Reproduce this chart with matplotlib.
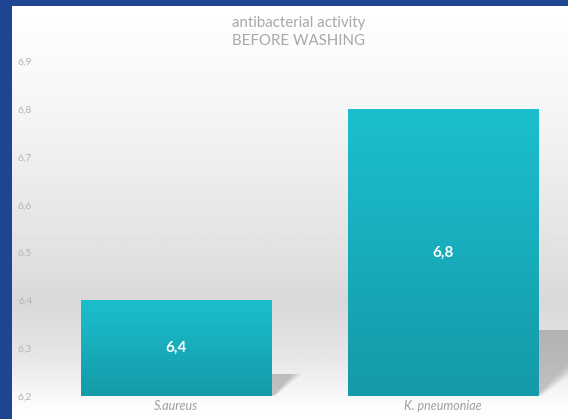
import numpy as np
import matplotlib.pyplot as plt
from matplotlib.patches import Polygon, Rectangle

categories = ["S.aureus", "K. pneumoniae"]
values = [6.4, 6.8]
value_labels = ["6,4", "6,8"]
yticks = [6.2, 6.3, 6.4, 6.5, 6.6, 6.7, 6.8, 6.9]
ytick_labels = ["6,2", "6,3", "6,4", "6,5", "6,6", "6,7", "6,8", "6,9"]
base = 6.2

W, H = 568, 419
fig = plt.figure(figsize=(W / 100, H / 100), dpi=100)
plt.rcParams['font.family'] = ['Lato', 'DejaVu Sans']

# background: dark blue frame + soft grey vertical gradient
bg = fig.add_axes([0, 0, 1, 1], zorder=-10)
bg.set_axis_off()
bg.add_patch(Rectangle((0, 0), W, H, color='#1d4591', zorder=0))
ys = np.arange(H)
stops_y = [0, 100, 250, 300, 360, 405, 419]
stops_v = [1.0, 0.965, 0.885, 0.85, 0.91, 0.99, 1.0]
grad = np.interp(ys, stops_y, stops_v)[:, None] * np.ones((1, 10))
bg.imshow(grad, cmap='gray', vmin=0, vmax=1, extent=[12, W, H, 7], aspect='auto', zorder=2)
bg.set_xlim(0, W)
bg.set_ylim(H, 0)

ax = fig.add_axes([42 / W, 1 - 396 / H, (W - 42) / W, (396 - 61.4) / H])
ax.set_facecolor('none')
x = np.arange(len(categories))
ax.set_xlim(-0.502, 1.468)
ax.set_ylim(6.2, 6.9)

width = 0.712
bars = ax.bar(x, [v - base for v in values], bottom=base, width=width, color='none')

# pixel -> data scale factors for the shadow shape
px_x = (1.468 + 0.502) / (W - 42)
px_y = 0.7 / (396 - 61.4)

cmap = plt.matplotlib.colors.LinearSegmentedColormap.from_list('teal', ['#149aa8', '#1cbfce'])
for b, lab in zip(bars, value_labels):
    x0, y0 = b.get_x(), b.get_y()
    w, h = b.get_width(), b.get_height()
    hp = h / px_y
    # soft shadow behind the bar
    sh = 0.23 * hp * px_y
    sx = 0.32 * hp * px_x
    a0 = 4 * px_x
    n = 10
    for i in range(n):
        k = 1.0 - 0.35 * i / n
        shadow = Polygon([(x0 + w, y0), (x0 + w, y0 + sh), (x0 + w + sx * k, y0 + sh),
                          (x0 + w + a0, y0 + sh * (1 - k) * 0.3)],
                         closed=True, color='#6e6e6e', alpha=0.045, lw=0, zorder=1)
        ax.add_patch(shadow)
    # gradient fill
    im = ax.imshow(np.linspace(0, 1, 100)[:, None], cmap=cmap, origin='lower',
                   extent=[x0, x0 + w, y0, y0 + h], aspect='auto', zorder=2)
    im.set_clip_path(Rectangle((x0, y0), w, h, transform=ax.transData))
    ax.text(x0 + w / 2, y0 + h / 2, lab, ha='center', va='center', color='white',
            fontsize=11, fontweight='bold', zorder=3)

ax.set_xlim(-0.502, 1.468)
ax.set_ylim(6.2, 6.9)
ax.set_yticks(yticks)
ax.set_yticklabels(ytick_labels, fontsize=7.5, color='#b4b4b4')
ax.set_xticks(x)
ax.set_xticklabels(categories, fontsize=9, color='#a0a0a0', style='italic')
ax.tick_params(length=0, axis='y', pad=7)
ax.tick_params(length=0, axis='x', pad=3)
for s in ax.spines.values():
    s.set_visible(False)

fig.text(299 / W, 1 - 23 / H, "antibacterial activity", ha='center', va='center',
         fontsize=10.8, color='#a8a8a8')
fig.text(299 / W, 1 - 41 / H, "BEFORE WASHING", ha='center', va='center',
         fontsize=10.8, color='#a8a8a8')

fig.savefig('out.png', dpi=100)
